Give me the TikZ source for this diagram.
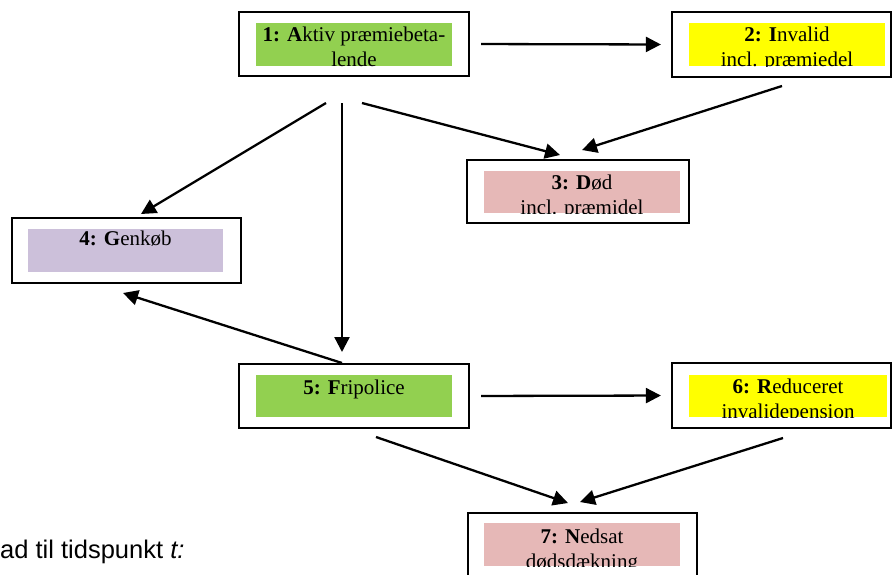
\documentclass[tikz,border=0pt]{standalone}
\usepackage{fontspec}
\setmainfont{Liberation Serif}
\newfontfamily\arialfont{Liberation Sans}
\usetikzlibrary{arrows.meta}
\definecolor{aktivgreen}{RGB}{146,208,80}
\definecolor{invalidyellow}{RGB}{255,255,0}
\definecolor{doedpink}{RGB}{230,184,183}
\definecolor{genkoebpurple}{RGB}{204,192,218}

\begin{document}
\begin{tikzpicture}[x=1pt, y=-1pt,
    state/.style={draw, line width=2.2pt, minimum width=230pt, minimum height=64pt, inner sep=0pt},
    statetext/.style={anchor=base, align=center, inner sep=0pt, font=\fontsize{21}{25}\selectfont},
    arrow/.style={-{Triangle[length=15pt,width=15pt]}, line width=2.3pt}
]
\useasboundingbox (0,0) rectangle (892,574);

% State boxes
\node[state] (aktiv) at (354,44) {};
\node[state, minimum width=219pt, minimum height=65pt] (invalid) at (781.5,44.5) {};
\node[state, minimum width=222pt, minimum height=63pt] (doed) at (578,191.5) {};
\node[state, minimum width=229pt, minimum height=65pt] (genkoeb) at (126.5,250.5) {};
\node[state] (fripolice) at (354,396) {};
\node[state, minimum width=219pt, minimum height=65pt] (reduceret) at (781.5,395.5) {};
\node[state, minimum width=229pt] (nedsat) at (582.5,545) {};

% Coloured fields, text cut off at their lower edge
\fill[aktivgreen] (256,23) rectangle (452,66);
\begin{scope}
\clip (256,23) rectangle (452,66);
\node[statetext] (aktivtext) at (354,66) {\textbf{1: A}ktiv præmiebeta-\\lende};
\end{scope}

\fill[invalidyellow] (689,23) rectangle (885,66);
\begin{scope}
\clip (689,23) rectangle (885,66);
\node[statetext] (invalidtext) at (787,66) {\textbf{2: I}nvalid\\incl. præmiedel};
\end{scope}

\fill[doedpink] (484,171) rectangle (680,213);
\begin{scope}
\clip (484,171) rectangle (680,213);
\node[statetext] (doedtext) at (582,214) {\textbf{3: D}ød\\incl. præmidel};
\end{scope}

\fill[genkoebpurple] (28,229) rectangle (223,272);
\node[statetext] (genkoebtext) at (125.5,245) {\textbf{4: G}enkøb};

\fill[aktivgreen] (256,375) rectangle (452,417);
\node[statetext] (fripolicetext) at (354,394) {\textbf{5: F}ripolice};

\fill[invalidyellow] (689,375) rectangle (887,417);
\begin{scope}
\clip (689,375) rectangle (887,417);
\node[statetext] (reducerettext) at (788,418) {\textbf{6: R}educeret\\invalidepension};
\end{scope}

\fill[doedpink] (484,523) rectangle (680,566);
\begin{scope}
\clip (484,523) rectangle (680,566);
\node[statetext] (nedsattext) at (582,568) {\textbf{7: N}edsat\\dødsdækning};
\end{scope}

% Caption, cut off at the left
\node[anchor=base west, inner sep=0pt, font=\arialfont\fontsize{25.5}{30}\selectfont] (tidspunkt) at (0,558) {ad til tidspunkt \textit{t:}};

% Free arrow ends
\coordinate (s14) at (326,103);
\coordinate (e14) at (141,214);
\coordinate (s15) at (342,103);
\coordinate (e15) at (342,352);
\coordinate (s13) at (362,103);
\coordinate (e13) at (560,155);
\coordinate (s23) at (782,86);
\coordinate (e23) at (582,150);
\coordinate (s54) at (342,363);
\coordinate (e54) at (123,293);
\coordinate (s57) at (376,437);
\coordinate (e57) at (568,503);
\coordinate (s67) at (783,438);
\coordinate (e67) at (580,502);

% Arrows
\draw[arrow, shorten <=11pt, shorten >=10pt] (aktiv.east) -- (invalid.west);
\draw[arrow] (s14) -- (e14);
\draw[arrow] (s15) -- (e15);
\draw[arrow] (s13) -- (e13);
\draw[arrow] (s23) -- (e23);
\draw[arrow] (s54) -- (e54);
\draw[arrow, shorten <=11pt, shorten >=10pt] (fripolice.east) -- (reduceret.west);
\draw[arrow] (s57) -- (e57);
\draw[arrow] (s67) -- (e67);

\end{tikzpicture}
\end{document}
